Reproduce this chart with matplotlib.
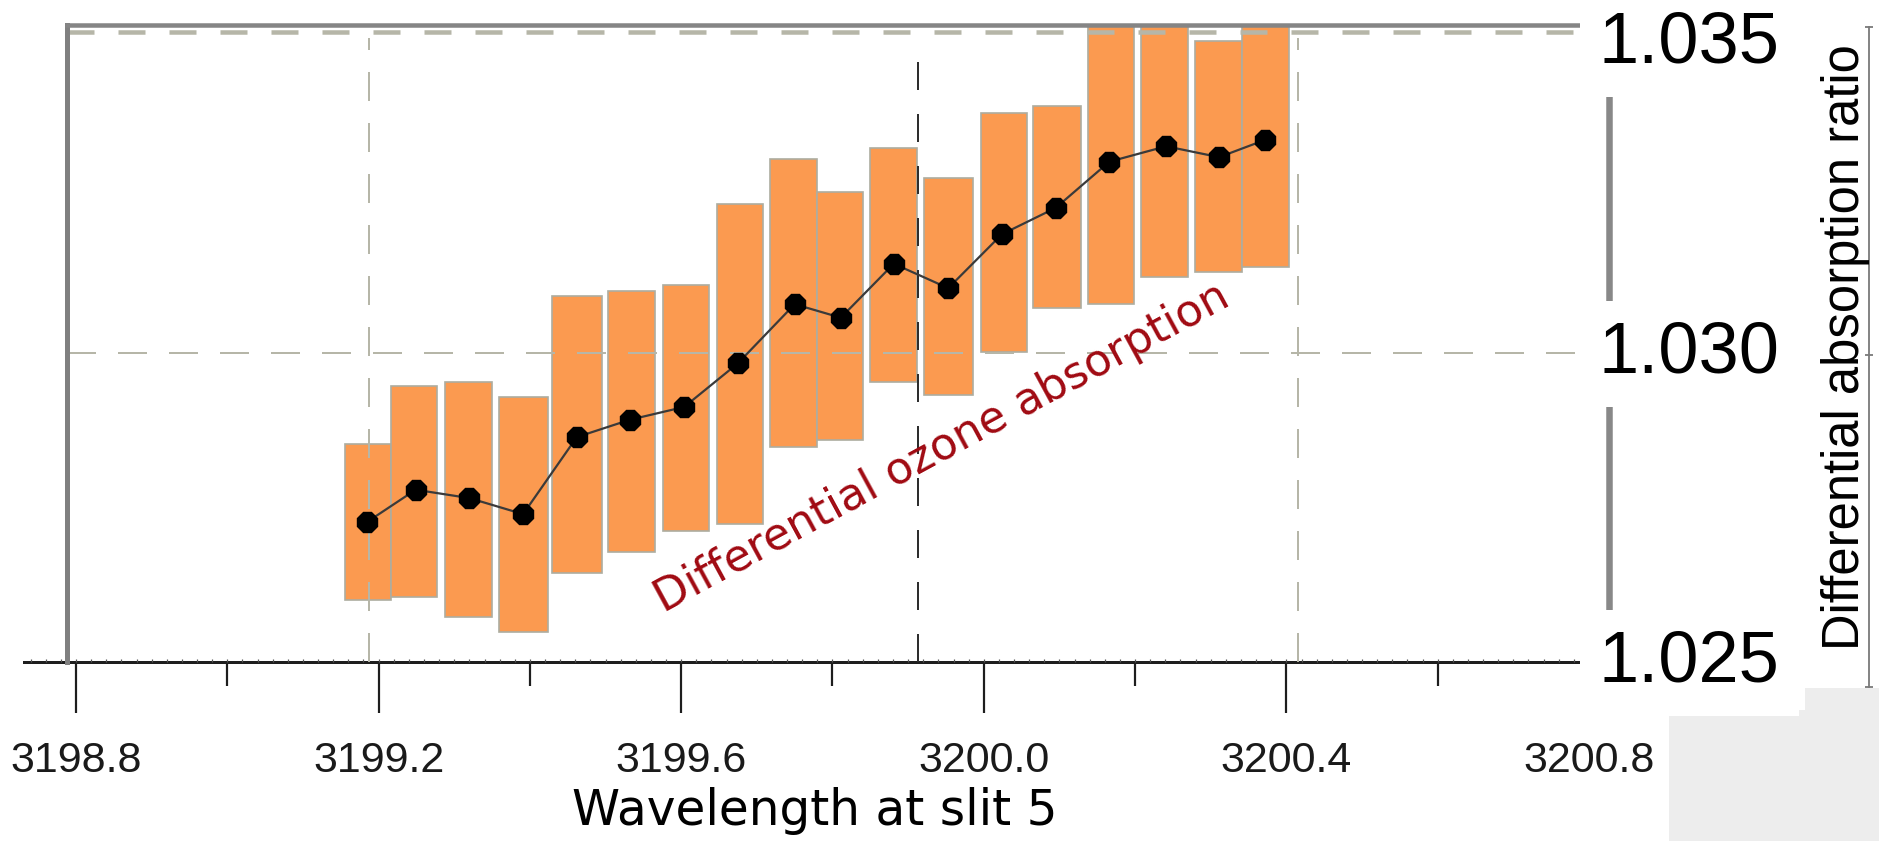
import numpy as np
import matplotlib
matplotlib.use("Agg")
import matplotlib.pyplot as plt
from matplotlib.ticker import MultipleLocator, FormatStrFormatter
from matplotlib.lines import Line2D
from matplotlib.patches import Rectangle
from matplotlib.transforms import blended_transform_factory

# ---------------- data ----------------
wavelength = [3199.185, 3199.249, 3199.320, 3199.391, 3199.462, 3199.532,
              3199.604, 3199.675, 3199.750, 3199.811, 3199.881, 3199.953,
              3200.024, 3200.095, 3200.166, 3200.241, 3200.311, 3200.372]
ratio = [1.02737, 1.02787, 1.02774, 1.02749, 1.02869, 1.02896,
         1.02916, 1.02984, 1.03076, 1.03055, 1.03139, 1.03101,
         1.03185, 1.03226, 1.03298, 1.03322, 1.03305, 1.03332]
bar_left = [3199.156, 3199.216, 3199.288, 3199.359, 3199.429, 3199.503,
            3199.576, 3199.647, 3199.717, 3199.780, 3199.850, 3199.921,
            3199.996, 3200.065, 3200.138, 3200.208, 3200.279, 3200.341]
bar_right = [3199.216, 3199.277, 3199.350, 3199.424, 3199.495, 3199.565,
             3199.637, 3199.708, 3199.780, 3199.840, 3199.912, 3199.986,
             3200.057, 3200.129, 3200.199, 3200.270, 3200.341, 3200.404]
bar_low = [1.02615, 1.02620, 1.02589, 1.02565, 1.02657, 1.02690,
           1.02723, 1.02734, 1.02854, 1.02865, 1.02955, 1.02935,
           1.03002, 1.03070, 1.03076, 1.03118, 1.03126, 1.03134]
bar_high = [1.02858, 1.02949, 1.02955, 1.02932, 1.03089, 1.03097,
            1.03106, 1.03232, 1.03302, 1.03251, 1.03319, 1.03273,
            1.03374, 1.03385, 1.03530, 1.03530, 1.03486, 1.03530]

x_major_ticks = [3198.8, 3199.2, 3199.6, 3200.0, 3200.4, 3200.8]
y_tick_values = [1.025, 1.030, 1.035]
y_tick_labels = ["1.025", "1.030", "1.035"]
h_grid = [1.030, 1.035]
v_grid_grey = [3199.187, 3200.415]
v_grid_dark = [3199.913]

x_label = "Wavelength at slit 5"
y_label = "Differential absorption ratio"
annotation = "Differential ozone absorption"

# ---------------- style ----------------
plt.rcParams['font.family'] = ['Liberation Sans', 'DejaVu Sans']
plt.rcParams['lines.scale_dashes'] = False

W, H, DPI = 1879, 841, 100
fig = plt.figure(figsize=(W / DPI, H / DPI), dpi=DPI)
PT = 72.0 / DPI  # points per pixel


def fx(px):
    return px / W


def fy(py):
    return 1 - py / H


# main axes spans the x-axis line (24 px .. 1609 px), y 25 .. 662 px
ax = fig.add_axes([fx(24), fy(662), fx(1609 - 24), (662 - 25) / H])
xlim = (3198.73126, 3200.82644)
ylim = (1.025187, 1.035109)
frame = (3198.788, 3200.788)
ax.set_xlim(*xlim)
ax.set_ylim(*ylim)

orange = '#FB9A50'
grey_grid = '#B6B6A8'

# floating bars
heights = np.array(bar_high) - np.array(bar_low)
widths = np.array(bar_right) - np.array(bar_left)
ax.bar(bar_left, heights, width=widths, bottom=bar_low, align='edge',
       color=orange, edgecolor='#ADADA0', linewidth=1.2, zorder=2)

# dashed grid lines (drawn over the bars)
ax.hlines(h_grid[0], frame[0], frame[1], colors=grey_grid, lw=2 * PT,
          linestyles=(0, (29 * PT, 22 * PT)), zorder=2.6)
ax.hlines(h_grid[1], frame[0], frame[1], colors=grey_grid, lw=4.5 * PT,
          linestyles=(0, (27 * PT, 24 * PT)), zorder=2.6)
ax.vlines(v_grid_grey, ylim[0], h_grid[1] - 0.0001, colors=grey_grid, lw=2 * PT,
          linestyles=(0, (29 * PT, 22 * PT)), zorder=2.6)
ax.vlines(v_grid_dark, ylim[0], h_grid[1] - 0.0001, colors='#2e2e2e', lw=2 * PT,
          linestyles=(0, (28 * PT, 24 * PT)), zorder=2.6)

# line with markers
ax.plot(wavelength, ratio, color='#3a3a3a', lw=1.6, marker='8',
        markersize=16, markerfacecolor='black', markeredgecolor='black', zorder=3)

# frame: thick grey left and top lines
ax.axvline(frame[0], color='#808080', lw=5 * PT, zorder=4, clip_on=False)
ax.axhline(ylim[1], xmin=(frame[0] - xlim[0]) / (xlim[1] - xlim[0]), xmax=1,
           color='#858585', lw=4.5 * PT, zorder=4, clip_on=False)

for s in ['left', 'right', 'top']:
    ax.spines[s].set_visible(False)
ax.spines['bottom'].set_color('#1e1e1e')
ax.spines['bottom'].set_linewidth(3 * PT)

ax.set_yticks([])
ax.set_xticks(x_major_ticks)
ax.xaxis.set_major_formatter(FormatStrFormatter('%.1f'))
ax.xaxis.set_minor_locator(MultipleLocator(0.2))
ax.tick_params(axis='x', which='major', direction='out', length=51 * PT,
               width=2.2 * PT, color='#1e1e1e', pad=20, labelsize=31,
               labelcolor='#1a1a1a')
ax.tick_params(axis='x', which='minor', direction='out', length=24 * PT,
               width=2.2 * PT, color='#1e1e1e')

# annotation
ax.text(3199.945, 1.028520, annotation, rotation=28.5, rotation_mode='anchor',
        ha='center', va='center', color='#A00A12', fontsize=32,
        family=['DejaVu Sans'], zorder=5)

# tiny dotted ticks along the axis line
ax_t = fig.add_axes(ax.get_position(), frameon=False)
ax_t.set_xlim(*xlim)
ax_t.set_ylim(*ylim)
ax_t.xaxis.set_major_locator(MultipleLocator(0.02))
ax_t.tick_params(axis='x', direction='in', length=3 * PT, width=1.2 * PT,
                 color='#555555', labelbottom=False)
ax_t.set_yticks([])

# right axis with large labels on white boxes
ax_r = ax.twinx()
ax_r.set_ylim(1.024887, 1.035194)
ax_r.set_yticks([])
for s in ['left', 'top', 'bottom']:
    ax_r.spines[s].set_visible(False)
ax_r.spines['right'].set_color('#888888')
ax_r.spines['right'].set_linewidth(6.5 * PT)
ax_r.spines['right'].set_zorder(1)
trans_r = blended_transform_factory(ax_r.transAxes, ax_r.transData)
x_lab = 1 - 10 / 1585
for val, lab in zip(y_tick_values, y_tick_labels):
    ax_r.text(x_lab, val, lab, transform=trans_r, ha='left',
              va='center_baseline', fontsize=52, color='black', zorder=10,
              clip_on=False,
              bbox=dict(boxstyle='square,pad=0.27', fc='white', ec='none'))

# right-hand axis title
fig.text(fx(1845), fy(347), y_label, rotation=90, ha='center', va='center',
         fontsize=36.5, color='black')
fig.add_artist(Line2D([fx(1869)] * 3, [fy(27), fy(355), fy(687)],
                      transform=fig.transFigure, color='#7a7a7a', lw=1.3,
                      marker='_', markersize=6, markeredgewidth=1.3))

# x-axis title
fig.text(fx(815), fy(825), x_label, ha='center', va='baseline', fontsize=35,
         family=['DejaVu Sans'], color='black')

# light grey background fragment in the lower right corner
fig.add_artist(Rectangle((fx(1669), 0), fx(W - 1669), (H - 710) / H,
                         transform=fig.transFigure, fc='#ededed', ec='none',
                         zorder=-1))
fig.add_artist(Rectangle((fx(1805), fy(710)), fx(W - 1805), 22 / H,
                         transform=fig.transFigure, fc='#ededed', ec='none',
                         zorder=-1))

fig.savefig('out.png', dpi=DPI)
